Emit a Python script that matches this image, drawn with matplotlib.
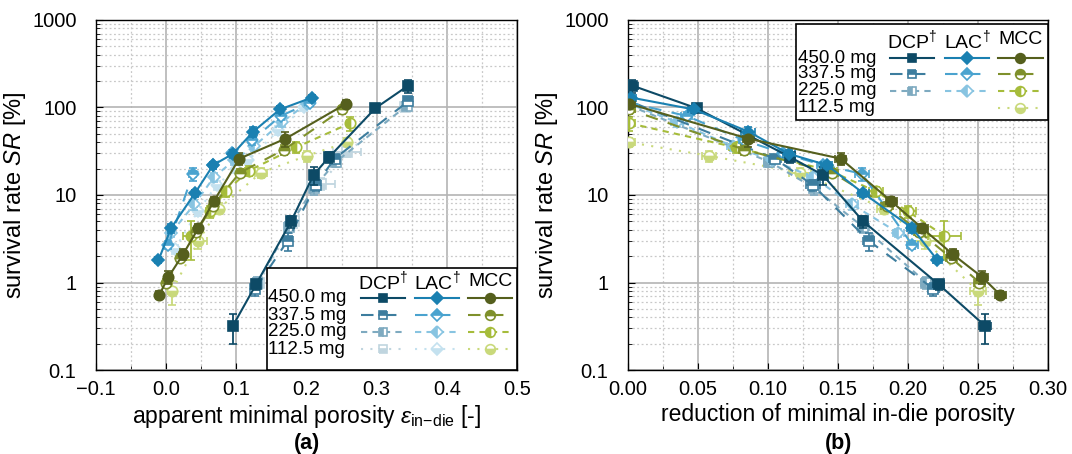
import numpy as np
import matplotlib
matplotlib.use("Agg")
import matplotlib.pyplot as plt
from matplotlib.lines import Line2D
from matplotlib.patches import Rectangle
from matplotlib.ticker import FixedLocator, LogLocator, NullFormatter, MultipleLocator

plt.rcParams['font.family'] = ['Liberation Sans', 'DejaVu Sans']
plt.rcParams['mathtext.fontset'] = 'custom'
plt.rcParams['mathtext.rm'] = 'Liberation Sans'
plt.rcParams['mathtext.it'] = 'Liberation Sans:italic'
plt.rcParams['mathtext.bf'] = 'Liberation Sans:bold'

# ---------------------------------------------------------------------------
# data: order of the inner lists is 450.0, 337.5, 225.0, 112.5 mg
# ---------------------------------------------------------------------------
masses = ["450.0 mg", "337.5 mg", "225.0 mg", "112.5 mg"]

# DCP
dcp_eps = [[0.095, 0.128, 0.178, 0.210, 0.232, 0.298, 0.345],
           [0.127, 0.173, 0.213, 0.240, 0.345],
           [0.130, 0.175, 0.210, 0.242, 0.343],
           [0.132, 0.182, 0.221, 0.258, 0.340]]
dcp_sr = [[0.32, 0.95, 5.0, 17, 27, 98, 178],
          [0.85, 3.0, 13, 26, 118],
          [1.0, 4.3, 12, 24, 105],
          [1.0, 5.0, 13.5, 31, 100]]
dcp_red = [[0.255, 0.222, 0.168, 0.139, 0.116, 0.049, 0.003],
           [0.218, 0.172, 0.132, 0.105, 0.001],
           [0.213, 0.168, 0.133, 0.101, 0.001],
           []]
dcp_sr_err = [[0.12, 0.12, 0.8, 4, 4, 8, 30],
              [0.15, 0.7, 2, 3, 12],
              [0.15, 0.6, 2, 3, 10],
              [0.15, 0.8, 2, 4, 10]]
dcp_eps_err = [[0.004, 0.004, 0.003, 0.003, 0.003, 0.003, 0.004],
               [0.004, 0.004, 0.005, 0.004, 0.003],
               [0.004, 0.004, 0.004, 0.004, 0.003],
               [0.004, 0.005, 0.020, 0.020, 0.004]]

# LAC
lac_eps = [[-0.011, 0.007, 0.041, 0.067, 0.095, 0.124, 0.162, 0.208],
           [0.003, 0.038, 0.066, 0.094, 0.122, 0.163, 0.205],
           [0.007, 0.040, 0.068, 0.097, 0.125, 0.165, 0.200],
           [0.012, 0.045, 0.072, 0.100, 0.117, 0.160, 0.196]]
lac_sr = [[1.8, 4.2, 10.5, 22, 29.5, 53, 95, 130],
          [2.7, 17.5, 22, 30, 42, 80, 113],
          [3.7, 7.8, 16, 25, 36, 68, 110],
          [2.4, 6.5, 13, 20, 25, 55, 100]]
lac_red = [[0.221, 0.203, 0.168, 0.142, 0.115, 0.086, 0.047, 0.002],
           [0.203, 0.167, 0.139, 0.111, 0.083, 0.042, 0.001],
           [0.193, 0.160, 0.132, 0.103, 0.075, 0.035, 0.001],
           []]
lac_sr_err = [[0.15, 0.5, 1.0, 2, 3, 7, 8, 10],
              [0.3, 3, 2, 3, 5, 8, 10],
              [0.4, 1.0, 2, 3, 4, 8, 10],
              [0.3, 0.8, 1.5, 2, 3, 6, 10]]
lac_eps_err = [[0.003, 0.004, 0.004, 0.004, 0.004, 0.005, 0.004, 0.004],
               [0.004, 0.005, 0.004, 0.004, 0.004, 0.004, 0.004],
               [0.004, 0.004, 0.004, 0.004, 0.004, 0.004, 0.004],
               [0.004, 0.004, 0.004, 0.004, 0.004, 0.004, 0.004]]

# MCC
mcc_eps = [[-0.010, 0.003, 0.024, 0.046, 0.068, 0.104, 0.170, 0.256],
           [0.000, 0.020, 0.043, 0.066, 0.105, 0.168, 0.251],
           [0.036, 0.062, 0.085, 0.118, 0.185, 0.262],
           [0.008, 0.046, 0.075, 0.135, 0.200, 0.258]]
mcc_sr = [[0.72, 1.15, 2.1, 4.2, 8.5, 26, 44, 110],
          [1.0, 1.9, 3.8, 7.5, 18, 33, 95],
          [3.4, 6.5, 11, 19, 35, 66],
          [0.8, 3.0, 7.0, 18, 28, 40]]
mcc_red = [[0.266, 0.253, 0.232, 0.210, 0.188, 0.152, 0.086, 0.001],
           [0.251, 0.231, 0.208, 0.185, 0.146, 0.083, 0.001],
           [0.226, 0.200, 0.177, 0.144, 0.077, 0.001],
           [0.250, 0.212, 0.183, 0.123, 0.058, 0.001]]
mcc_sr_err = [[0.08, 0.2, 0.3, 0.5, 1.0, 4, 9, 12],
              [0.1, 0.2, 0.4, 0.8, 2, 4, 10],
              [1.6, 1.0, 1.5, 2.5, 5, 12],
              [0.25, 0.6, 1.0, 2.5, 4, 5]]
mcc_eps_err = [[0.004, 0.004, 0.004, 0.004, 0.004, 0.004, 0.004, 0.004],
               [0.004, 0.004, 0.004, 0.004, 0.004, 0.004, 0.004],
               [0.012, 0.006, 0.005, 0.005, 0.005, 0.004],
               [0.006, 0.012, 0.005, 0.008, 0.005, 0.004]]

# ---------------------------------------------------------------------------
# styles
# ---------------------------------------------------------------------------
colors = {
    "DCP": ["#0d4a66", "#3d7d9e", "#7eaac0", "#c0d5df"],
    "LAC": ["#1a80b1", "#4aa3cf", "#88c4e1", "#c4e1ef"],
    "MCC": ["#555f1d", "#7f902b", "#a6bc3b", "#c9d97b"],
}
markers = {"DCP": "s", "LAC": "D", "MCC": "o"}
msizes = {"DCP": 6.5, "LAC": 6.5, "MCC": 7.5}
linestyles = ["-", (0, (6, 5)), (0, (3, 2.5)), (0, (1, 3.5))]
fills = ["full", "top", "left", "bottom"]

materials = [("DCP", dcp_eps, dcp_sr, dcp_red, dcp_sr_err, dcp_eps_err),
             ("LAC", lac_eps, lac_sr, lac_red, lac_sr_err, lac_eps_err),
             ("MCC", mcc_eps, mcc_sr, mcc_red, mcc_sr_err, mcc_eps_err)]

fig = plt.figure(figsize=(10.72, 4.54), dpi=100)
ax1 = fig.add_axes([0.0896, 0.185, 0.3927, 0.771])
ax2 = fig.add_axes([0.5858, 0.185, 0.3918, 0.771])


def draw(ax, xkey):
    for name, eps, sr, red, srerr, epserr in materials:
        for i in range(4):
            xs = eps[i] if xkey == "eps" else red[i]
            if len(xs) == 0:
                continue
            c = colors[name][i]
            ax.errorbar(xs, sr[i], yerr=srerr[i], xerr=epserr[i],
                        color=c, ls=linestyles[i], lw=1.5,
                        marker=markers[name], ms=msizes[name],
                        fillstyle=fills[i], mfc=c, mfcalt="white", mec=c,
                        mew=1.2, ecolor=c, elinewidth=1.3, capsize=3,
                        capthick=1.3, zorder=3 + (3 - i))


def style(ax):
    ax.set_yscale("log")
    ax.set_ylim(0.1, 1000)
    ax.yaxis.set_major_locator(FixedLocator([0.1, 1, 10, 100, 1000]))
    ax.set_yticklabels(["0.1", "1", "10", "100", "1000"])
    ax.yaxis.set_minor_locator(LogLocator(base=10, subs=np.arange(2, 10)))
    ax.yaxis.set_minor_formatter(NullFormatter())
    ax.grid(True, which="major", color="#b4b4b4", lw=1.2, ls="-", zorder=0)
    ax.grid(True, which="minor", color="#c8c8c8", lw=0.9, ls=(0, (1.5, 2)), zorder=0)
    ax.set_axisbelow(True)
    ax.tick_params(which="both", direction="in", labelsize=14.5)
    ax.tick_params(which="major", length=5)
    ax.tick_params(which="minor", length=3)
    ax.tick_params(axis="y", which="both", pad=14)
    ax.tick_params(axis="x", which="both", pad=7)
    ax.set_ylabel(r"survival rate $\it{SR}$ [%]", fontsize=17, labelpad=3)
    for s in ax.spines.values():
        s.set_linewidth(1.0)


draw(ax1, "eps")
draw(ax2, "red")
style(ax1)
style(ax2)

ax1.set_xlim(-0.1, 0.5)
ax1.xaxis.set_major_locator(MultipleLocator(0.1))
ax1.xaxis.set_minor_locator(MultipleLocator(0.05))
ax1.xaxis.set_major_formatter(plt.FuncFormatter(lambda v, p: f"{v:.1f}".replace("-", "\u2212")))
ax1.set_xlabel(r"apparent minimal porosity $\varepsilon_{\mathrm{in{-}die}}$ [-]", fontsize=16.5,
               labelpad=3)

ax2.set_xlim(0, 0.30)
ax2.xaxis.set_major_locator(MultipleLocator(0.05))
ax2.xaxis.set_minor_locator(MultipleLocator(0.025))
ax2.xaxis.set_major_formatter(plt.FuncFormatter(lambda v, p: f"{v:.2f}"))
ax2.set_xlabel("reduction of minimal in-die porosity", fontsize=16.5, labelpad=3)

fig.text(0.286, 0.012, "(a)", fontsize=15.5, fontweight="bold", ha="center")
fig.text(0.782, 0.012, "(b)", fontsize=15.5, fontweight="bold", ha="center")


def table_legend(ax, box, head_y, row_ys, label_x, col_c, half_w, rows_shown):
    x0, y0, x1, y1 = box
    ax.add_patch(Rectangle((x0, y0), x1 - x0, y1 - y0, transform=ax.transAxes,
                           fc="white", ec="black", lw=1.2, zorder=20, clip_on=False))
    heads = [r"DCP$^{\dagger}$", r"LAC$^{\dagger}$", "MCC"]
    for cx, h in zip(col_c, heads):
        ax.text(cx, head_y, h, transform=ax.transAxes, ha="center", va="center",
                fontsize=14, zorder=21)
    for i, (ry, lab) in enumerate(zip(row_ys, masses)):
        ax.text(label_x, ry, lab, transform=ax.transAxes, ha="left", va="center",
                fontsize=13.5, zorder=21)
        for j, name in enumerate(["DCP", "LAC", "MCC"]):
            if name not in rows_shown[i]:
                continue
            c = colors[name][i]
            cx = col_c[j]
            ax.add_artist(Line2D([cx - half_w, cx + half_w], [ry, ry], transform=ax.transAxes,
                                 color=c, ls=linestyles[i], lw=1.5, zorder=21))
            ax.add_artist(Line2D([cx], [ry], transform=ax.transAxes, ls="none",
                                 marker=markers[name], ms=msizes[name] - 0.5, fillstyle=fills[i],
                                 mfc=c, mfcalt="white", mec=c, mew=1.2, zorder=22))


all3 = ["DCP", "LAC", "MCC"]
table_legend(ax1, (0.406, 0.0, 1.0, 0.291), 0.254, [0.206, 0.157, 0.109, 0.060],
             0.409, [0.682, 0.810, 0.936], 0.052, [all3, all3, all3, all3])
table_legend(ax2, (0.400, 0.714, 1.0, 0.989), 0.943, [0.891, 0.846, 0.798, 0.749],
             0.405, [0.676, 0.807, 0.934], 0.053, [all3, all3, all3, ["MCC"]])

fig.savefig("out.png", dpi=100)
